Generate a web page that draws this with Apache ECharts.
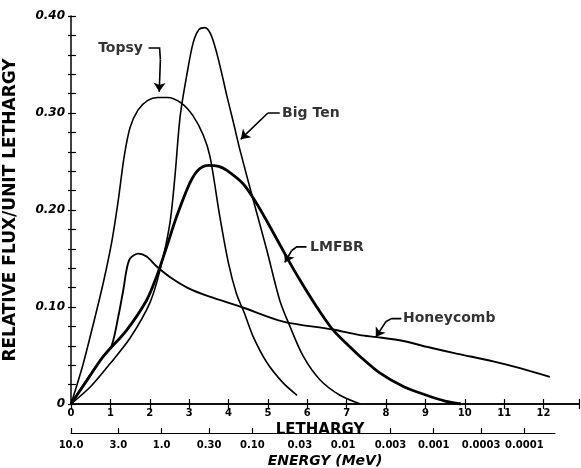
<!DOCTYPE html>
<html><head><meta charset="utf-8">
<script src="https://cdn.jsdelivr.net/npm/echarts@6/dist/echarts.min.js"></script>
<style>html,body{margin:0;padding:0;background:#fff}#c{width:581px;height:468px}</style>
</head><body><div id="c"></div>
<script>
// Lethargy u vs relative flux per unit lethargy
var topsy = [[0,0],[0.3,0.04],[0.57,0.083],[0.82,0.125],[1.03,0.166],[1.2,0.21],[1.35,0.255],[1.5,0.285],[1.7,0.303],[1.95,0.313],[2.2,0.316],[2.45,0.316],[2.81,0.310],[3.1,0.297],[3.36,0.277],[3.53,0.255],[3.78,0.193],[4.0,0.145],[4.2,0.114],[4.4,0.094],[4.62,0.070],[4.97,0.043],[5.38,0.022],[5.74,0.009]];
var bigTen = [[0,0],[0.5,0.018],[1.0,0.042],[1.5,0.068],[2.0,0.104],[2.26,0.138],[2.51,0.186],[2.64,0.235],[2.77,0.296],[2.94,0.339],[3.1,0.372],[3.25,0.386],[3.4,0.388],[3.55,0.381],[3.7,0.362],[3.85,0.337],[3.95,0.319],[4.12,0.291],[4.29,0.262],[4.63,0.21],[4.97,0.159],[5.3,0.107],[5.56,0.08],[5.9,0.049],[6.32,0.025],[6.83,0.009],[7.35,0.0]];
var lmfbr = [[0,0],[0.4,0.024],[0.82,0.049],[1.41,0.076],[1.92,0.107],[2.17,0.131],[2.43,0.162],[2.68,0.193],[3.02,0.228],[3.25,0.242],[3.5,0.246],[3.75,0.245],[3.95,0.241],[4.37,0.227],[4.71,0.207],[5.05,0.183],[5.47,0.152],[5.81,0.128],[6.24,0.100],[6.62,0.078],[7.0,0.062],[7.34,0.049],[7.84,0.032],[8.44,0.018],[9.03,0.009],[9.5,0.003],[9.9,0.0]];
var honeycomb = [[0,0],[0.4,0.025],[0.8,0.048],[1.03,0.06],[1.2,0.09],[1.33,0.118],[1.41,0.138],[1.5,0.150],[1.71,0.155],[1.92,0.152],[2.17,0.142],[2.51,0.131],[3.0,0.119],[3.5,0.111],[4.33,0.100],[5.39,0.085],[6.62,0.077],[7.34,0.071],[7.76,0.069],[8.44,0.065],[9.03,0.059],[9.79,0.052],[10.72,0.044],[11.4,0.037],[12.16,0.028]];

// Energy scale (MeV) shown under the lethargy axis; u = ln(10 MeV / E)
var energyLabels = ["10.0","3.0","1.0","0.30","0.10","0.03","0.01","0.003","0.001","0.0003","0.0001"];
var energyValues = [10,3,1,0.3,0.1,0.03,0.01,0.003,0.001,0.0003,0.0001];
var energyU = energyValues.map(function(e){ return Math.log(10/e); });

// Annotations: label anchor and leader path in data coordinates (last point = arrow tip)
var annLabels = [
  {name:"Topsy", value:[0.69,0.367]},
  {name:"Big Ten", value:[5.36,0.300]},
  {name:"LMFBR", value:[6.07,0.162]},
  {name:"Honeycomb", value:[8.43,0.088]}
];
var annLeaders = [
  [[1.97,0.367],[2.25,0.367],[2.27,0.355],[2.24,0.322]],
  [[5.3,0.300],[5.0,0.300],[4.31,0.273]],
  [[5.98,0.162],[5.73,0.162],[5.6,0.158],[5.43,0.146]],
  [[8.39,0.088],[8.14,0.088],[8.0,0.085],[7.74,0.069]]
];

var font = '"DejaVu Sans", sans-serif';
var chart = echarts.init(document.getElementById('c'), null, {renderer:'canvas'});
function lineSeries(name, data, w){
  return {name:name, type:'line', data:data, smooth:0.3, symbol:'none',
    xAxisIndex:0, yAxisIndex:0, lineStyle:{color:'#000', width:w}, z:3};
}
var leaderBodies = annLeaders.map(function(c){ return {coords:c.slice(0, c.length-1)}; });
var leaderTips = annLeaders.map(function(c){ return {coords:c.slice(c.length-2)}; });
chart.setOption({
  animation:false,
  backgroundColor:'#fff',
  grid:[
    {left:71, top:16, right:2, bottom:64, outerBoundsMode:'none', containLabel:false},
    {left:71, top:432, width:484, height:1, outerBoundsMode:'none', containLabel:false}
  ],
  xAxis:[
    {type:'value', gridIndex:0, position:'bottom', min:0, max:12.9, interval:1,
     name:'LETHARGY', nameLocation:'middle', nameGap:14,
     nameTextStyle:{fontFamily:font, fontWeight:'bold', fontSize:15, color:'#000', padding:[0,10,0,0]},
     axisLine:{lineStyle:{color:'#000', width:1.5}},
     axisTick:{inside:true, length:5, lineStyle:{color:'#000', width:1.2}},
     axisLabel:{margin:4, fontFamily:font, fontWeight:'bold', fontSize:10, color:'#000',
       formatter:function(v){ return v>12.5 ? '' : String(v); }},
     splitLine:{show:false}},
    {type:'value', gridIndex:0, position:'top', min:0, max:12.9, interval:1,
     axisLine:{lineStyle:{color:'#000', width:1.5}},
     axisTick:{inside:true, length:5, lineStyle:{color:'#000', width:1.2}},
     axisLabel:{show:false}, splitLine:{show:false}},
    {type:'value', gridIndex:1, position:'bottom', min:0, max:12.29,
     name:'ENERGY (MeV)', nameLocation:'middle', nameGap:21,
     nameTextStyle:{fontFamily:font, fontWeight:'bold', fontStyle:'italic', fontSize:14, color:'#000', padding:[0,0,0,24]},
     axisLine:{lineStyle:{color:'#000', width:1.2}},
     axisTick:{inside:true, length:5, customValues:energyU, lineStyle:{color:'#000', width:1.2}},
     axisLabel:{margin:7, customValues:energyU, fontFamily:font, fontWeight:'bold', fontSize:10, color:'#000',
       formatter:function(v){
         var best=0, d=1e9;
         for (var i=0;i<energyU.length;i++){ var dd=Math.abs(energyU[i]-v); if(dd<d){d=dd;best=i;} }
         return energyLabels[best];
       }},
     splitLine:{show:false}}
  ],
  yAxis:[
    {type:'value', gridIndex:0, position:'left', min:0, max:0.4, interval:0.1,
     name:'RELATIVE FLUX/UNIT LETHARGY', nameLocation:'middle', nameGap:52, nameRotate:90,
     nameTextStyle:{fontFamily:font, fontWeight:'bold', fontSize:17, color:'#000'},
     axisLine:{show:true, lineStyle:{color:'#000', width:1.5}},
     axisTick:{inside:true, length:5, lineStyle:{color:'#000', width:1.2}},
     minorTick:{show:true, splitNumber:5, length:5, lineStyle:{color:'#000', width:1.2}},
     axisLabel:{margin:6, fontFamily:font, fontWeight:'bold', fontStyle:'italic', fontSize:12, color:'#000',
       formatter:function(v){ return v===0 ? '0' : v.toFixed(2); }},
     splitLine:{show:false}},
    {type:'value', gridIndex:0, position:'right', min:0, max:0.4, interval:0.1,
     axisLine:{show:false},
     axisTick:{show:true, inside:true, length:3, lineStyle:{color:'#000', width:1.2}},
     minorTick:{show:true, splitNumber:5, length:3, lineStyle:{color:'#000', width:1.2}},
     axisLabel:{show:false}, splitLine:{show:false}},
    {type:'value', gridIndex:1, min:0, max:1, show:false}
  ],
  series:[
    lineSeries('Topsy', topsy, 1.6),
    lineSeries('Big Ten', bigTen, 1.6),
    lineSeries('LMFBR', lmfbr, 2.8),
    lineSeries('Honeycomb', honeycomb, 1.9),
    {type:'lines', coordinateSystem:'cartesian2d', xAxisIndex:0, yAxisIndex:0, polyline:true,
     lineStyle:{color:'#000', width:1.6, opacity:1},
     data:leaderBodies, z:4},
    {type:'lines', coordinateSystem:'cartesian2d', xAxisIndex:0, yAxisIndex:0,
     symbol:['none','arrow'], symbolSize:9,
     lineStyle:{color:'#000', width:1.6, opacity:1, curveness:0},
     data:leaderTips, z:4},
    {type:'scatter', xAxisIndex:0, yAxisIndex:0, symbolSize:0, data:annLabels,
     label:{show:true, position:'right', distance:0, formatter:'{b}',
       fontFamily:font, fontWeight:'bold', fontSize:14, color:'#000'}, z:5}
  ]
});
</script></body></html>
